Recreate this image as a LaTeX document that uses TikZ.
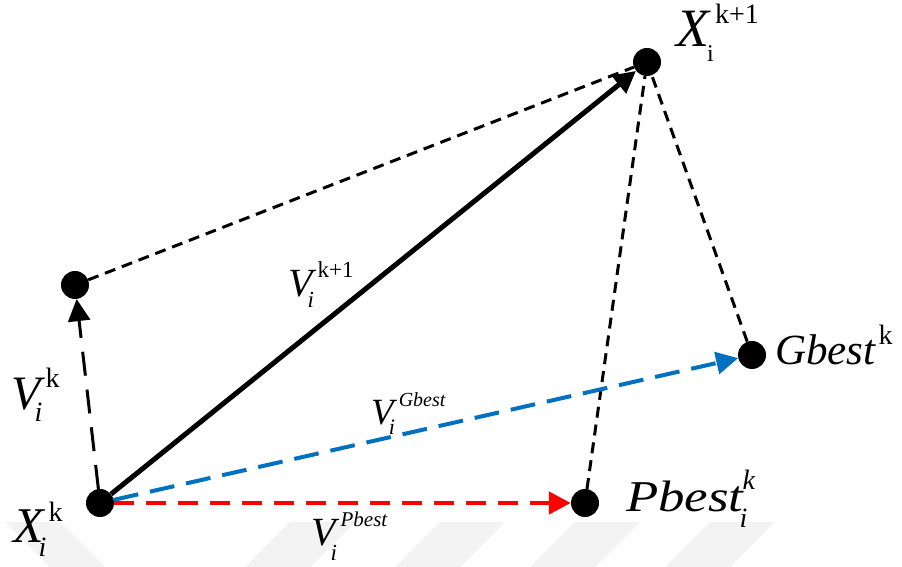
\documentclass[tikz,border=0pt]{standalone}
\usepackage{fontspec}
\setmainfont{Liberation Serif}
\usetikzlibrary{arrows.meta}
% #1 base size, #2 base, #3 script size, #4 sup, #5 sub, #6 raise, #7 drop, #8 sup kern, #9 sub kern
\newcommand\lbl[9]{{\fontsize{#1}{#1}\selectfont #2}%
  \makebox[0pt][l]{\kern#8\raisebox{#6}{\fontsize{#3}{#3}\selectfont #4}}%
  \kern#9\raisebox{-#7}{\fontsize{#3}{#3}\selectfont #5}}
\definecolor{wblue}{RGB}{0,112,192}
\definecolor{wm}{RGB}{243,243,243}
\tikzset{
  dot/.style={circle,fill=black,minimum size=28pt,inner sep=0pt},
  blkdash/.style={line width=3pt,dash pattern=on 11pt off 7pt},
  vkdash/.style={line width=3pt,dash pattern=on 24pt off 14pt},
  solidarr/.style={line width=5pt},
  reddash/.style={line width=4.5pt,red,dash pattern=on 20pt off 12pt},
  bluedash/.style={line width=4pt,wblue,dash pattern=on 25pt off 12pt},
  tip/.style={-{Triangle[length=22pt,width=22pt]}},
  lab/.style={anchor=base west,inner sep=0pt},
  wmark/.style={fill=wm,draw=none}
}
\begin{document}
\begin{tikzpicture}[x=1pt,y=1pt]
\useasboundingbox (0,0) rectangle (902,567);
% watermark
\fill[wmark] (5,45) -- (60,45) -- (105,0) -- (50,0) -- cycle;
\foreach \t in {290,440,575,710}{
  \fill[wmark] (\t,45) -- (\t+65,45) -- (\t+20,0) -- (\t-45,0) -- cycle;
}
% dots
\node[dot] (xk)  at (100,64) {};
\node[dot] (vk)  at (75,282) {};
\node[dot] (xk1) at (647,505) {};
\node[dot] (gb)  at (752,212) {};
\node[dot] (pb)  at (585,64) {};
% connectors
\draw[blkdash] (vk) -- (xk1);
\draw[blkdash] (pb) -- (xk1);
\draw[blkdash] (gb) -- (xk1);
\draw[vkdash,tip] (xk) -- (vk);
\draw[solidarr,tip] (xk) -- (xk1);
\draw[bluedash,tip] (xk) -- (gb);
\draw[reddash,tip] (xk) -- (pb);
% labels
\node[lab] (lxk1) at (676,520) {\lbl{54}{\itshape X}{28}{k+1}{\fontsize{24}{24}\selectfont i}{23pt}{15pt}{6pt}{-2pt}};
\node[lab] (lxk)  at (13,24)  {\lbl{50}{\itshape X}{28}{k}{\itshape i}{21pt}{14pt}{5pt}{-5pt}};
\node[lab] (lvk)  at (11,157) {\lbl{48}{\itshape V}{28}{k}{\itshape i}{22pt}{12pt}{5pt}{-6pt}};
\node[lab] (lvk1) at (288,270) {\lbl{40}{\itshape V}{23}{k+1}{\itshape i}{19pt}{11pt}{5pt}{-5pt}};
\node[lab] (lvg)  at (371,142) {\lbl{37}{\itshape V}{20}{\itshape Gbest}{\fontsize{22}{22}\selectfont\itshape i}{18pt}{10pt}{5pt}{-5pt}};
\node[lab] (lvp)  at (311,21) {\lbl{40}{\itshape V}{21}{\itshape Pbest}{\fontsize{23}{23}\selectfont\itshape i}{19pt}{15pt}{5pt}{-5pt}};
\node[lab] (lpb)  at (626,55) {\lbl{44}{\scalebox{1.2}[1]{\itshape Pbest}}{28}{\itshape k}{\itshape i}{22pt}{16pt}{-1pt}{-4pt}};
\node[lab] (lgb)  at (775,202) {\lbl{43}{\itshape Gbest}{28}{k}{}{20pt}{0pt}{3pt}{0pt}};
\end{tikzpicture}
\end{document}
